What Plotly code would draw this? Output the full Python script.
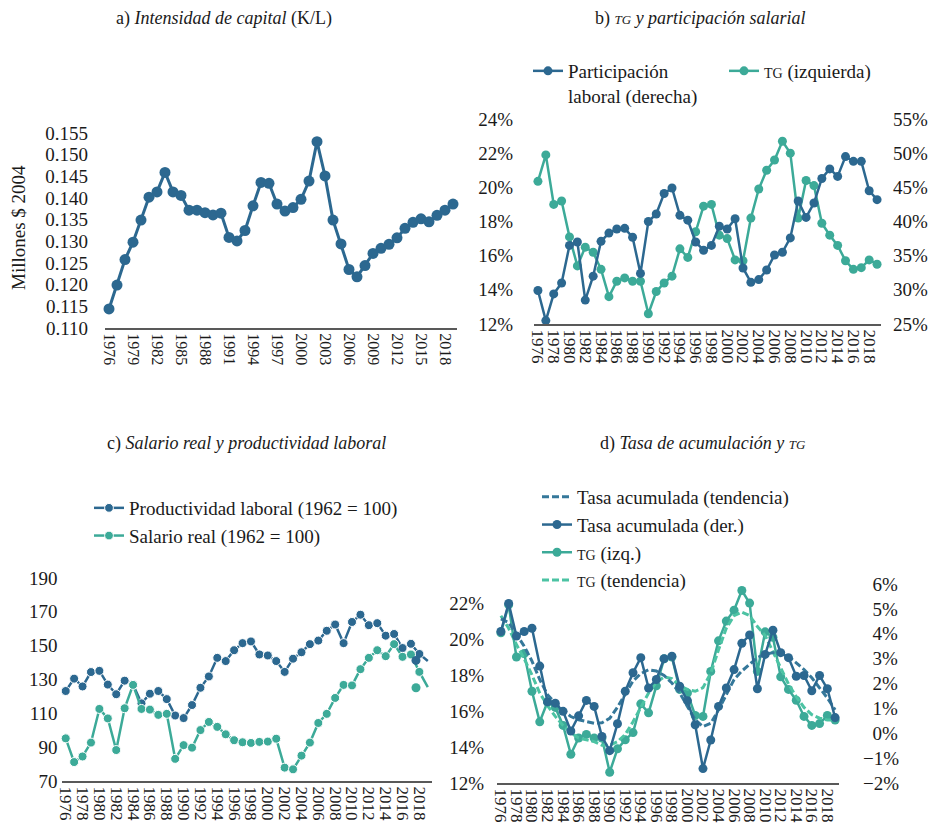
import plotly.graph_objects as go

# ---------------- data ----------------
years = list(range(1976, 2020))

# a) Intensidad de capital (K/L), millones $ 2004
kl = [0.1144, 0.1199, 0.1258, 0.1298, 0.1349, 0.1402, 0.1414, 0.1459, 0.1414, 0.1406,
      0.1372, 0.1372, 0.1366, 0.1361, 0.1365, 0.1309, 0.1301, 0.1325, 0.1382, 0.1436,
      0.1434, 0.1386, 0.1370, 0.1378, 0.1397, 0.1439, 0.1530, 0.1451, 0.1349, 0.1294,
      0.1235, 0.1218, 0.1244, 0.1272, 0.1284, 0.1293, 0.1308, 0.1330, 0.1344, 0.1352,
      0.1345, 0.1360, 0.1372, 0.1386]

# b) TG (izquierda, %) y participación laboral (derecha, %)
tg = [20.35, 21.9, 19.0, 19.2, 17.1, 15.4, 16.5, 16.2, 15.2, 13.6,
      14.5, 14.7, 14.5, 14.5, 12.6, 13.9, 14.4, 14.8, 16.4, 15.9,
      17.4, 18.9, 19.0, 17.2, 17.0, 15.75, 15.7, 18.2, 19.9, 21.0,
      21.6, 22.7, 22.0, 18.2, 20.4, 20.1, 17.9, 17.2, 16.6, 15.7,
      15.2, 15.3, 15.75, 15.5]
part = [29.9, 25.5, 29.4, 31.0, 36.5, 37.0, 28.5, 32.0, 37.1, 38.3,
        38.9, 39.0, 37.7, 32.4, 40.0, 41.1, 44.1, 44.9, 40.9, 40.2,
        37.0, 35.8, 36.5, 39.3, 38.9, 40.4, 33.2, 31.1, 31.5, 32.9,
        35.1, 35.5, 37.6, 43.0, 40.6, 42.7, 46.3, 47.7, 46.6, 49.5,
        48.8, 48.8, 44.5, 43.2]

# c) Productividad laboral y salario real (1962 = 100)
prod = [123.2, 130.5, 125.9, 134.4, 135.1, 127.0, 121.3, 129.3, 127.0, 115.9,
        121.6, 123.2, 118.4, 108.7, 107.2, 114.9, 125.1, 131.8, 142.8, 140.9,
        147.3, 151.5, 152.5, 144.8, 144.2, 140.9, 134.5, 142.3, 146.1, 150.9,
        153.0, 158.8, 162.5, 151.5, 164.0, 168.3, 162.1, 163.3, 155.9, 156.9,
        148.6, 151.1, 145.1, 140.9]
sal = [95.2, 81.2, 84.5, 92.7, 112.6, 107.0, 88.3, 113.0, 126.8, 112.6,
       112.2, 109.1, 109.7, 83.1, 91.2, 89.7, 100.1, 104.9, 102.0, 97.6,
       94.1, 92.9, 92.5, 93.1, 93.3, 95.0, 77.9, 76.9, 85.0, 92.7,
       104.3, 109.7, 119.1, 126.8, 126.5, 136.1, 142.8, 147.3, 143.8, 150.9,
       143.4, 144.8, 134.5, 125.5]
# stray last-year markers drawn off the line in the original
extra_x = [2017.6]
extra_prod = [141.3]
extra_sal = [125.1]

# d) Tasa de acumulación (derecha, %) y TG (izquierda, %) con tendencias
acum = [4.09, 5.22, 3.91, 4.09, 4.22, 2.70, 1.26, 1.21, 0.88, 0.09,
        0.70, 1.32, 1.08, -0.13, -0.70, 0.38, 1.69, 2.43, 3.04, 1.82,
        2.16, 3.00, 3.10, 1.89, 1.31, 0.34, -1.42, -0.27, 1.08, 1.82,
        2.56, 3.62, 3.95, 1.79, 3.17, 4.14, 3.24, 3.04, 2.29, 2.32,
        1.71, 2.32, 1.79, 0.63]
acum_trend = [4.60, 4.45, 3.98, 3.50, 2.90, 2.16, 1.55, 1.21, 0.94, 0.67,
              0.54, 0.47, 0.40, 0.42, 0.60, 1.05, 1.60, 2.10, 2.40, 2.55,
              2.50, 2.32, 2.02, 1.62, 1.08, 0.54, 0.27, 0.40, 0.94, 1.55,
              2.16, 2.50, 2.77, 3.04, 3.17, 3.24, 3.21, 3.08, 2.83, 2.56,
              2.23, 1.82, 1.42, 0.94]
tg_trend = [21.3, 20.6, 19.7, 18.9, 18.0, 17.0, 16.3, 15.7, 15.2, 14.8,
            14.5, 14.4, 14.3, 14.1, 14.1, 14.3, 14.7, 15.4, 16.2, 17.0,
            17.6, 17.9, 17.8, 17.4, 17.2, 17.1, 17.3, 18.1, 19.4, 20.6,
            21.3, 21.5, 21.3, 20.7, 20.2, 19.3, 18.4, 17.5, 16.8, 16.2,
            15.8, 15.6, 15.5, 15.5]

# tick labels
d_right_vals = [-2, -1, 0, 1, 2, 3, 4, 5, 6]
d_right_text = ["\u22122%", "\u22121%", "\u20070%", "\u20071%", "\u20072%",
                "\u20073%", "\u20074%", "\u20075%", "\u20076%"]

# ---------------- styling ----------------
W, H = 932, 830
def xd(a, b):
    return [a / W, b / W]
def yd(top, bottom):
    return [1 - bottom / H, 1 - top / H]

DARK = "#2c6890"
TEAL = "#3caa98"
DARK_D = "#35789a"
TEAL_D = "#4cc3a3"
FONT = "Liberation Serif"
TXT = "#1a1a1a"
AXC = "#595959"
MS = 9
# last point of panel c drawn without a marker (marker appears displaced instead)
c_sizes = [MS] * (len(years) - 1) + [0]

def sc(t, size=14):
    return f"<span style='font-size:{size}px'>{t}</span>"

fig = go.Figure()

# a
fig.add_trace(go.Scatter(x=years, y=kl, mode="lines+markers",
                         line=dict(color=DARK, width=3), marker=dict(size=11, color=DARK),
                         xaxis="x", yaxis="y", showlegend=False, cliponaxis=False))
# b
fig.add_trace(go.Scatter(x=years, y=part, name="Participación<br>laboral (derecha)",
                         mode="lines+markers", line=dict(color=DARK, width=2.5),
                         marker=dict(size=MS, color=DARK), xaxis="x2", yaxis="y3",
                         legend="legend", cliponaxis=False))
fig.add_trace(go.Scatter(x=years, y=tg, name=sc("TG") + " (izquierda)",
                         mode="lines+markers", line=dict(color=TEAL, width=2.5),
                         marker=dict(size=MS, color=TEAL), xaxis="x2", yaxis="y2",
                         legend="legend", cliponaxis=False))
# c
fig.add_trace(go.Scatter(x=years, y=prod, name="Productividad laboral (1962 = 100)",
                         mode="lines+markers", line=dict(color=DARK, width=2.5),
                         marker=dict(size=c_sizes, color=DARK, opacity=1),
                         xaxis="x3", yaxis="y4", legend="legend2", cliponaxis=False))
fig.add_trace(go.Scatter(x=years, y=sal, name="Salario real (1962 = 100)",
                         mode="lines+markers", line=dict(color=TEAL, width=2.5),
                         marker=dict(size=c_sizes, color=TEAL, opacity=1),
                         xaxis="x3", yaxis="y4", legend="legend2", cliponaxis=False))
fig.add_trace(go.Scatter(x=extra_x, y=extra_prod, mode="markers",
                         marker=dict(size=MS, color=DARK), xaxis="x3", yaxis="y4",
                         showlegend=False))
fig.add_trace(go.Scatter(x=extra_x, y=extra_sal, mode="markers",
                         marker=dict(size=MS, color=TEAL), xaxis="x3", yaxis="y4",
                         showlegend=False))
# d
fig.add_trace(go.Scatter(x=years, y=acum_trend, name="Tasa acumulada (tendencia)",
                         mode="lines", line=dict(color=DARK_D, width=3, dash="7px,3px"),
                         xaxis="x4", yaxis="y6", legend="legend3", cliponaxis=False))
fig.add_trace(go.Scatter(x=years, y=acum, name="Tasa acumulada (der.)",
                         mode="lines+markers", line=dict(color=DARK, width=2.5),
                         marker=dict(size=MS, color=DARK), xaxis="x4", yaxis="y6",
                         legend="legend3", cliponaxis=False))
fig.add_trace(go.Scatter(x=years, y=tg, name=sc("TG") + " (izq.)",
                         mode="lines+markers", line=dict(color=TEAL, width=2.5),
                         marker=dict(size=MS, color=TEAL), xaxis="x4", yaxis="y5",
                         legend="legend3", cliponaxis=False))
fig.add_trace(go.Scatter(x=years, y=tg_trend, name=sc("TG") + " (tendencia)",
                         mode="lines", line=dict(color=TEAL_D, width=3, dash="7px,3px"),
                         xaxis="x4", yaxis="y5", legend="legend3", cliponaxis=False))

xcommon = dict(range=[1975.5, 2019.5], tickmode="linear", tick0=1976, dtick=2,
               tickangle=90, showline=True, linecolor=AXC, linewidth=2, ticks="",
               showgrid=False, zeroline=False, tickfont=dict(size=17), fixedrange=True,
               automargin=False)
ycommon = dict(showgrid=False, zeroline=False, showline=False, ticks="",
               tickfont=dict(size=19), fixedrange=True, automargin=False)

fig.update_layout(
    width=W, height=H, margin=dict(l=0, r=0, t=0, b=0, autoexpand=False),
    paper_bgcolor="white", plot_bgcolor="white",
    font=dict(family=FONT, size=19, color=TXT),
    hovermode=False,
    xaxis=dict(xcommon, domain=xd(105, 457), anchor="y", dtick=3, tickfont=dict(size=16)),
    yaxis=dict(ycommon, domain=yd(133, 328), anchor="x", range=[0.110, 0.155],
               tickmode="linear", tick0=0.110, dtick=0.005, tickformat=".3f",
               ticklabelstandoff=16),
    xaxis2=dict(xcommon, domain=xd(534, 881), anchor="y2"),
    yaxis2=dict(ycommon, domain=yd(119, 324), anchor="x2", range=[12, 24],
                tickmode="linear", tick0=12, dtick=2, ticksuffix="%", ticklabelstandoff=20),
    yaxis3=dict(ycommon, overlaying="y2", side="right", anchor="x2", range=[25, 55],
                tickmode="linear", tick0=25, dtick=5, ticksuffix="%", ticklabelstandoff=11),
    xaxis3=dict(xcommon, domain=xd(61.5, 432), anchor="y4"),
    yaxis4=dict(ycommon, domain=yd(578, 781), anchor="x3", range=[70, 190],
                tickmode="linear", tick0=70, dtick=20, ticklabelstandoff=3),
    xaxis4=dict(xcommon, domain=xd(497, 839), anchor="y5"),
    yaxis5=dict(ycommon, domain=yd(584, 783), anchor="x4", range=[12, 23.06],
                tickmode="linear", tick0=12, dtick=2, ticksuffix="%", ticklabelstandoff=12),
    yaxis6=dict(ycommon, overlaying="y5", side="right", anchor="x4", range=[-2, 6],
                tickmode="array", tickvals=d_right_vals, ticktext=d_right_text,
                ticklabelstandoff=23),
    legend=dict(orientation="h", x=528 / W, y=1 - 52 / H, xanchor="left", yanchor="top",
                bgcolor="rgba(0,0,0,0)", font=dict(size=19), valign="top",
                entrywidth=151, entrywidthmode="pixels"),
    legend2=dict(orientation="v", x=89 / W, y=1 - 489 / H, xanchor="left", yanchor="top",
                 bgcolor="rgba(0,0,0,0)", font=dict(size=19), tracegroupgap=0),
    legend3=dict(orientation="v", x=537 / W, y=1 - 478 / H, xanchor="left", yanchor="top",
                 bgcolor="rgba(0,0,0,0)", font=dict(size=19), tracegroupgap=0),
    annotations=[
        dict(text="a) <i>Intensidad de capital</i> (K/L)", x=224 / W, y=1 - 18 / H,
             xref="paper", yref="paper", showarrow=False, xanchor="center",
             yanchor="middle", font=dict(size=18)),
        dict(text="b) <i>" + sc("TG", 13) + " y participación salarial</i>", x=700 / W,
             y=1 - 18 / H, xref="paper", yref="paper", showarrow=False,
             xanchor="center", yanchor="middle", font=dict(size=18)),
        dict(text="c) <i>Salario real y productividad laboral</i>", x=246 / W,
             y=1 - 443 / H, xref="paper", yref="paper", showarrow=False,
             xanchor="center", yanchor="middle", font=dict(size=18)),
        dict(text="d) <i>Tasa de acumulación y " + sc("TG", 13) + "</i>", x=703 / W,
             y=1 - 443 / H, xref="paper", yref="paper", showarrow=False,
             xanchor="center", yanchor="middle", font=dict(size=18)),
        dict(text="Millones $ 2004", x=18 / W, y=1 - 228 / H, xref="paper", yref="paper",
             showarrow=False, textangle=-90, xanchor="center", yanchor="middle",
             font=dict(size=19)),
    ],
)

fig.write_html("out.html", config={"displayModeBar": False, "staticPlot": True},
               post_script="document.body.style.margin='0';"
                           "document.body.style.overflow='hidden';")
